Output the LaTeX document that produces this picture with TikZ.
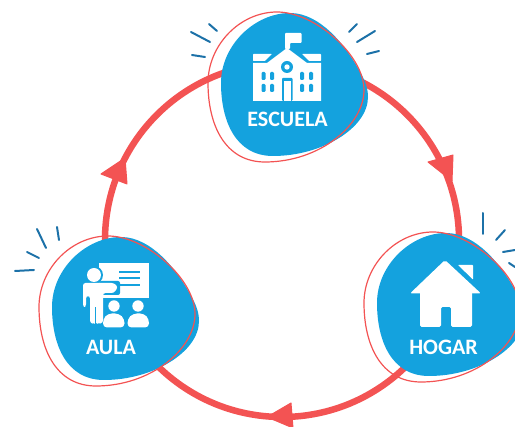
\documentclass[tikz,border=0pt]{standalone}
\usepackage{fontspec}
\setmainfont{Carlito}
\definecolor{blobblue}{RGB}{20,162,222}
\definecolor{ringred}{RGB}{243,83,83}
\definecolor{raysblue}{RGB}{28,113,168}
\tikzset{
  ring/.style={draw=ringred,line width=6.5pt},
  tipfill/.style={fill=ringred,draw=ringred,line width=1pt,line join=round},
  ray/.style={draw=raysblue,line width=2pt,line cap=round},
  blobfill/.style={fill=blobblue},
  outlinered/.style={draw=ringred,line width=1.2pt},
  iconw/.style={fill=white,draw=none},
  iconb/.style={fill=blobblue,draw=none},
  lbl/.style={text=white,font=\bfseries\fontsize{22}{22}\selectfont,inner sep=0pt}
}
\newcommand{\blobshape}[1]{%
  \begin{scope}[shift={(#1)}]
  \fill[blobfill] (221,83) .. controls (221,45) and (255,13) .. (290,13)
     .. controls (320,13) and (345,45) .. (358,68)
     .. controls (365,80) and (368,88) .. (368,97)
     .. controls (368,128) and (322,156) .. (273,156)
     .. controls (235,156) and (221,120) .. (221,83) -- cycle;
  \draw[outlinered] (208,83) .. controls (208,45) and (240,12) .. (277,12)
     .. controls (315,12) and (364,55) .. (364,90)
     .. controls (364,125) and (320,162) .. (265,162)
     .. controls (225,162) and (208,125) .. (208,83) -- cycle;
  \end{scope}}
\begin{document}
\begin{tikzpicture}[x=1pt,y=-1pt]
\useasboundingbox (0,0) rectangle (515,427);
\clip (0,0) rectangle (515,427);
\coordinate (c) at (282,240);
\draw[ring] (c) circle[radius=177];
\fill[tipfill] (125,158) -- (127,184) -- (101,174) -- cycle;
\fill[tipfill] (428,162) -- (453,155) -- (452,181) -- cycle;
\fill[tipfill] (291,403) -- (293,428) -- (267,417) -- cycle;
\blobshape{0,0}
\blobshape{-169,224}
\blobshape{156,220}
% rays escuela
\draw[ray] (191,32)--(210,42);
\draw[ray] (209,24)--(217,31);
\draw[ray] (192,55)--(205,57);
\draw[ray] (357,42)--(375,31);
\draw[ray] (349,32)--(357,24);
\draw[ray] (367,54)--(379,51);
% rays aula
\draw[ray] (37,229)--(46,248);
\draw[ray] (57,227)--(59,240);
\draw[ray] (27,252)--(39,258);
\draw[ray] (15,271)--(34,270);
% rays hogar
\draw[ray] (483,213)--(483,234);
\draw[ray] (496,240)--(505,230);
\draw[ray] (503,252)--(515,250);
\draw[ray] (509,263)--(515,267);
% school
\fill[iconw,rounded corners=.8pt] (285,33)--(301.5,33)--(301.5,43)--(290,43)--(290,49)--(285,49)--cycle;
\fill[iconw,rounded corners=.6pt] (253,54)--(272,54)--(265,61)--(253,61)--cycle;
\fill[iconw,rounded corners=.6pt] (321,54)--(302,54)--(309,61)--(321,61)--cycle;
\fill[iconw] (253,63)--(267,63)--(287,48)--(307,63)--(321,63)--(321,101)--(253,101)--cycle;
\fill[iconb] (287,67) circle[radius=6];
\fill[iconw] (287,67) circle[radius=2.7];
\fill[iconb,rounded corners=1pt] (282,78) rectangle (292.5,101);
\fill[iconw] (283.5,81) rectangle (291,101);
\foreach \x in {263.5,272,302,311}{
  \fill[iconb,rounded corners=1.2pt] (\x-2,72) rectangle (\x+2,80);
  \fill[iconb,rounded corners=1.2pt] (\x-2,84) rectangle (\x+2,92);}
\node[lbl] (escuela) at (287.5,119) {ESCUELA};
% aula icon
\fill[iconw] (99,263) rectangle (149,298);
\fill[iconb] (119,271) rectangle (140,273);
\fill[iconb] (119,277.5) rectangle (140,279.5);
\fill[iconb] (119,284) rectangle (140,286);
\fill[iconb] (94,275) circle[radius=9];
\fill[iconw] (94,275) circle[radius=7];
\fill[iconb,rounded corners=2pt] (99,281) rectangle (120,295);
\fill[iconw,rounded corners=2.5pt] (83,283)--(114,283)--(118,287)--(114,293)--(103,293)--(103,323)--(98,324)--(96,322)--(94,324)--(90,323)--(90,296)--(86,296)--(86,307)--(83,307)--cycle;
\fill[iconb] (95,307) rectangle (96.2,324);
\fill[iconw] (114,306) circle[radius=5.7];
\fill[iconw] (138,306) circle[radius=5.7];
\fill[iconw,rounded corners=4pt] (103,327.5)--(103,319)--(108,313.5)--(119,313.5)--(124.5,319)--(124.5,327.5)--cycle;
\fill[iconw,rounded corners=4pt] (127.5,327.5)--(127.5,319)--(133,313.5)--(144,313.5)--(149,319)--(149,327.5)--cycle;
\node[lbl] (aula) at (111,347) {AULA};
% house
\fill[iconw,rounded corners=.6pt] (458,265)--(473,265)--(473,279.5)--cycle;
\fill[iconw,rounded corners=2pt] (445,260)--(481,293.5)--(410,293.5)--cycle;
\fill[iconw,rounded corners=1.5pt] (420,288)--(472,288)--(472,327)--(451,327)--(451,307)--(441,307)--(441,327)--(420,327)--cycle;
\node[lbl] (hogar) at (443.5,347) {HOGAR};
\end{tikzpicture}
\end{document}
